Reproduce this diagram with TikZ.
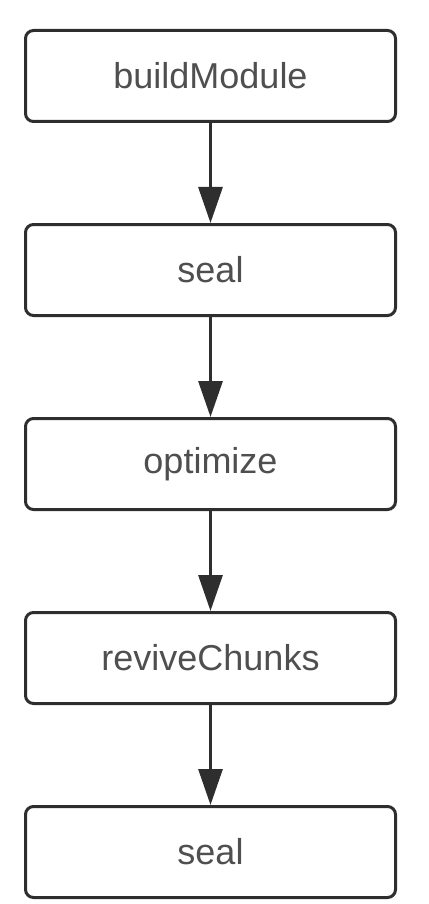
\documentclass[tikz,border=0pt]{standalone}
\usepackage{fontspec}
\setmainfont{Liberation Sans}
\usepackage{tikz}
\usetikzlibrary{arrows.meta,positioning}
\definecolor{boxline}{HTML}{2E2E2E}
\definecolor{boxtext}{HTML}{4F4F4F}
\tikzset {
	stage/.style={rectangle, draw=boxline, line width=3pt, rounded corners=8pt,
				minimum width=370pt, minimum height=91pt, text=boxtext,
				font=\fontsize{36}{40}\selectfont},
	flow/.style={draw=boxline, line width=3pt, -{Triangle[width=24pt,length=36pt]}}
}

\begin{document}
\begin{tikzpicture}[x=1pt, y=-1pt, node distance=100pt]
					\useasboundingbox (0,0) rectangle (428,904);
					\node [stage] (build) at (210.5,76) {buildModule};
					\node [stage, below=of build] (seal) {seal};
					\node [stage, below=of seal] (optimize) {optimize};
					\node [stage, below=of optimize] (revive) {reviveChunks};
					\node [stage, below=of revive] (reseal) {seal};
					\draw [flow] (build) -- (seal);
					\draw [flow] (seal) -- (optimize);
					\draw [flow] (optimize) -- (revive);
					\draw [flow] (revive) -- (reseal);
					\end{tikzpicture}
\end{document}
